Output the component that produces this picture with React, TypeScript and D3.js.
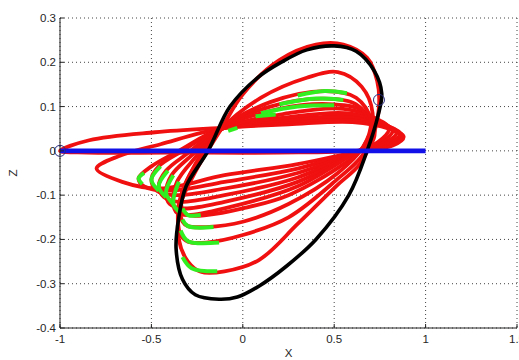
import React from 'react';
import * as d3 from 'd3';

type Pt = [number, number];

// axis ticks
const xTicks = [-1, -0.5, 0, 0.5, 1, 1.5];
const xTickLabels = ['-1', '-0.5', '0', '0.5', '1', '1.5'];
const yTicks = [-0.4, -0.3, -0.2, -0.1, 0, 0.1, 0.2, 0.3];
const yTickLabels = ['-0.4', '-0.3', '-0.2', '-0.1', '0', '0.1', '0.2', '0.3'];

// black limit cycle (x, z)
const blackLoop: Pt[] = [
  [-0.13, -0.335], [-0.26, -0.325], [-0.33, -0.29], [-0.365, -0.22], [-0.35, -0.15],
  [-0.31, -0.08], [-0.19, 0.0], [-0.07, 0.1], [0.08, 0.165], [0.21, 0.2], [0.35, 0.228],
  [0.5, 0.237], [0.62, 0.225], [0.72, 0.18], [0.76, 0.13], [0.74, 0.08], [0.68, 0.0],
  [0.58, -0.1], [0.4, -0.2], [0.24, -0.26], [0.09, -0.305], [-0.03, -0.33],
];

// red trajectory loops, from the flat first turn to the last one near the black cycle
const redLoops: Pt[][] = [
  [[-1.0, 0.0], [-0.84, 0.024], [-0.48, 0.042], [-0.12, 0.052], [0.25, 0.06], [0.6, 0.065], [0.8, 0.05], [0.88, 0.032], [0.82, 0.012], [0.62, 0.0], [0.2, -0.004], [-0.4, -0.004], [-0.85, -0.004]],
  [[-0.8, -0.04], [-0.68, -0.012], [-0.45, 0.015], [-0.12, 0.05], [0.25, 0.062], [0.6, 0.068], [0.8, 0.055], [0.87, 0.035], [0.8, 0.012], [0.62, -0.002], [0.3, -0.03], [-0.1, -0.055], [-0.45, -0.085], [-0.66, -0.07]],
  [[-0.57, -0.062], [-0.5, -0.035], [-0.35, 0.0], [-0.12, 0.05], [0.25, 0.066], [0.6, 0.072], [0.78, 0.058], [0.86, 0.038], [0.78, 0.014], [0.62, -0.002], [0.3, -0.04], [-0.1, -0.07], [-0.4, -0.09], [-0.54, -0.08]],
  [[-0.5, -0.065], [-0.46, -0.035], [-0.33, 0.0], [-0.12, 0.05], [0.25, 0.07], [0.58, 0.078], [0.76, 0.062], [0.84, 0.04], [0.76, 0.015], [0.62, -0.003], [0.3, -0.05], [-0.1, -0.085], [-0.38, -0.1], [-0.47, -0.09]],
  [[-0.46, -0.08], [-0.42, -0.045], [-0.3, -0.005], [-0.12, 0.05], [0.25, 0.076], [0.56, 0.085], [0.74, 0.068], [0.82, 0.045], [0.75, 0.018], [0.62, -0.003], [0.3, -0.06], [-0.1, -0.1], [-0.35, -0.115], [-0.43, -0.105]],
  [[-0.42, -0.095], [-0.39, -0.055], [-0.28, -0.01], [-0.12, 0.048], [0.25, 0.085], [0.55, 0.095], [0.72, 0.075], [0.8, 0.05], [0.74, 0.02], [0.62, -0.003], [0.3, -0.07], [-0.1, -0.115], [-0.33, -0.13], [-0.4, -0.12]],
  [[-0.38, -0.12], [-0.36, -0.07], [-0.26, -0.015], [-0.12, 0.048], [0.2, 0.095], [0.5, 0.105], [0.66, 0.09], [0.72, 0.05], [0.7, 0.015], [0.62, -0.003], [0.3, -0.08], [-0.1, -0.13], [-0.3, -0.145], [-0.36, -0.14]],
  [[-0.33, -0.135], [-0.33, -0.09], [-0.24, -0.02], [-0.12, 0.048], [0.15, 0.1], [0.45, 0.118], [0.62, 0.105], [0.7, 0.06], [0.66, 0.01], [0.55, -0.03], [0.25, -0.1], [0.0, -0.13], [-0.2, -0.145], [-0.3, -0.145]],
  [[-0.33, -0.16], [-0.34, -0.11], [-0.26, -0.03], [-0.12, 0.048], [0.15, 0.11], [0.45, 0.135], [0.62, 0.12], [0.7, 0.07], [0.66, 0.01], [0.52, -0.05], [0.25, -0.12], [0.0, -0.16], [-0.2, -0.172], [-0.3, -0.17]],
  [[-0.34, -0.19], [-0.35, -0.12], [-0.27, -0.04], [-0.12, 0.048], [0.1, 0.12], [0.35, 0.165], [0.52, 0.178], [0.65, 0.145], [0.71, 0.085], [0.67, 0.0], [0.5, -0.07], [0.25, -0.15], [0.0, -0.19], [-0.2, -0.207], [-0.3, -0.205]],
  [[-0.3, -0.25], [-0.35, -0.2], [-0.34, -0.12], [-0.25, -0.04], [-0.12, 0.048], [0.0, 0.128], [0.2, 0.205], [0.4, 0.24], [0.55, 0.24], [0.68, 0.21], [0.735, 0.158], [0.745, 0.1], [0.71, 0.03], [0.64, -0.03], [0.51, -0.08], [0.3, -0.165], [0.09, -0.246], [-0.1, -0.272], [-0.23, -0.273]],
];

// green pieces of the trajectory
const greenSegments: Pt[][] = [
  [[-0.54, -0.05], [-0.57, -0.062], [-0.55, -0.075]],
  [[-0.45, -0.035], [-0.5, -0.065], [-0.46, -0.09]],
  [[-0.41, -0.045], [-0.46, -0.08], [-0.42, -0.105]],
  [[-0.38, -0.055], [-0.42, -0.095], [-0.38, -0.12]],
  [[-0.35, -0.07], [-0.38, -0.12], [-0.34, -0.14]],
  [[-0.33, -0.13], [-0.3, -0.145], [-0.23, -0.145]],
  [[-0.33, -0.155], [-0.3, -0.17], [-0.16, -0.172]],
  [[-0.34, -0.18], [-0.3, -0.204], [-0.13, -0.207]],
  [[-0.33, -0.24], [-0.28, -0.265], [-0.14, -0.272]],
  [[0.1, 0.085], [0.3, 0.1], [0.5, 0.103]],
  [[0.2, 0.105], [0.4, 0.118], [0.55, 0.115]],
  [[0.3, 0.125], [0.45, 0.135], [0.57, 0.13]],
  [[-0.08, 0.045], [-0.03, 0.052]],
  [[0.07, 0.078], [0.18, 0.082]],
];

// blue segment along z = 0 and the two marked points
const blueLine: Pt[] = [[-1, 0], [1, 0]];
const markers: Pt[] = [[-1, 0], [0.745, 0.115]];

const W = 519;
const H = 360;
const left = 60;
const right = 517;
const top = 18;
const bottom = 328;

export default function App() {
  const x = d3.scaleLinear().domain([-1, 1.5]).range([left, right]);
  const y = d3.scaleLinear().domain([-0.4, 0.3]).range([bottom, top]);

  const closed = d3.line<Pt>().x(d => x(d[0])).y(d => y(d[1])).curve(d3.curveCatmullRomClosed.alpha(0.5));
  const open = d3.line<Pt>().x(d => x(d[0])).y(d => y(d[1])).curve(d3.curveCatmullRom.alpha(0.5));
  const straight = d3.line<Pt>().x(d => x(d[0])).y(d => y(d[1]));

  const font = 'Liberation Sans, Arial, sans-serif';

  return (
    <svg width={W} height={H} style={{ position: 'absolute', left: 0, top: 0, background: '#fff' }}>
      {/* dotted grid */}
      {xTicks.map(t => (
        <line key={'gx' + t} x1={x(t)} x2={x(t)} y1={top} y2={bottom} stroke="#444" strokeWidth={1} strokeDasharray="1 3" />
      ))}
      {yTicks.map(t => (
        <line key={'gy' + t} x1={left} x2={right} y1={y(t)} y2={y(t)} stroke="#444" strokeWidth={1} strokeDasharray="1 3" />
      ))}

      {redLoops.map((l, i) => (
        <path key={'r' + i} d={closed(l) || ''} fill="none" stroke="#f01010" strokeWidth={3.8} />
      ))}
      {greenSegments.map((s, i) => (
        <path key={'g' + i} d={open(s) || ''} fill="none" stroke="#30ee20" strokeWidth={4} strokeLinecap="butt" />
      ))}
      <path d={closed(blackLoop) || ''} fill="none" stroke="#000" strokeWidth={3.6} />
      <path d={straight(blueLine) || ''} fill="none" stroke="#1212e8" strokeWidth={4.8} />
      {markers.map((m, i) => (
        <circle key={'m' + i} cx={x(m[0])} cy={y(m[1])} r={5.5} fill="none" stroke="#2a2a80" strokeWidth={1} />
      ))}

      {/* axes */}
      <line x1={left} x2={left} y1={top} y2={bottom} stroke="#222" strokeWidth={1} />
      <line x1={left} x2={right} y1={bottom} y2={bottom} stroke="#222" strokeWidth={1} />
      {xTicks.map(t => (
        <line key={'tx' + t} x1={x(t)} x2={x(t)} y1={bottom} y2={bottom - 4} stroke="#222" />
      ))}
      {yTicks.map(t => (
        <line key={'ty' + t} x1={left} x2={left + 4} y1={y(t)} y2={y(t)} stroke="#222" />
      ))}
      {xTicks.map((t, i) => (
        <text key={'lx' + t} x={x(t)} y={bottom + 15} textAnchor="middle" fontFamily={font} fontSize={11.5} fill="#262626">
          {xTickLabels[i]}
        </text>
      ))}
      {yTicks.map((t, i) => (
        <text key={'ly' + t} x={left - 4} y={y(t) + 4} textAnchor="end" fontFamily={font} fontSize={11.5} fill="#262626">
          {yTickLabels[i]}
        </text>
      ))}
      <text x={(left + right) / 2} y={357} textAnchor="middle" fontFamily={font} fontSize={11.5} fill="#262626">X</text>
      <text transform={`translate(17,${(top + bottom) / 2}) rotate(-90)`} textAnchor="middle" fontFamily={font} fontSize={11.5} fill="#262626">Z</text>
    </svg>
  );
}
